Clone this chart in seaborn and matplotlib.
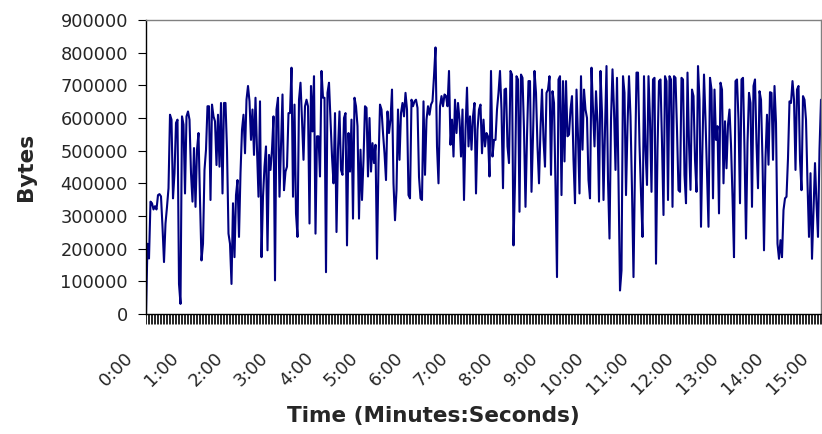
import numpy as np
import pandas as pd
import matplotlib
matplotlib.use("Agg")
import matplotlib.pyplot as plt
import matplotlib.transforms as mtransforms
import seaborn as sns

# Bytes transferred per 2-second interval, in thousands of bytes
bytes_k = [
    0, 215, 170, 344, 339, 320, 330, 320, 364, 367,
    360, 267, 159, 277, 328, 385, 610, 595, 354, 431,
    585, 595, 92, 31, 605, 580, 369, 605, 620, 595,
    431, 344, 508, 328, 503, 554, 349, 164, 215, 441,
    503, 636, 636, 349, 641, 605, 590, 456, 610, 451,
    646, 369, 646, 646, 503, 246, 215, 92, 339, 174,
    364, 410, 236, 431, 564, 610, 492, 656, 698, 651,
    533, 626, 487, 662, 503, 359, 651, 174, 359, 451,
    513, 195, 487, 441, 503, 605, 103, 626, 662, 359,
    513, 672, 379, 436, 451, 615, 615, 754, 359, 641,
    308, 236, 656, 708, 595, 472, 636, 656, 636, 277,
    698, 559, 728, 246, 544, 544, 421, 744, 662, 662,
    128, 677, 708, 595, 482, 400, 615, 251, 503, 620,
    441, 426, 600, 615, 210, 554, 436, 595, 292, 662,
    636, 575, 292, 503, 349, 472, 636, 631, 421, 600,
    436, 523, 462, 518, 169, 460, 641, 626, 554, 492,
    410, 620, 554, 595, 687, 400, 287, 379, 626, 472,
    615, 646, 605, 677, 626, 364, 354, 656, 636, 651,
    656, 631, 420, 354, 349, 651, 426, 595, 636, 610,
    641, 651, 728, 816, 513, 400, 636, 667, 636, 672,
    667, 636, 744, 518, 595, 482, 656, 554, 646, 595,
    482, 626, 349, 564, 693, 513, 605, 503, 605, 646,
    369, 564, 626, 641, 492, 595, 513, 554, 544, 421,
    744, 482, 533, 533, 626, 677, 744, 626, 385, 687,
    690, 513, 462, 744, 733, 210, 405, 728, 718, 313,
    733, 723, 564, 328, 544, 713, 713, 374, 544, 744,
    677, 513, 400, 569, 687, 533, 451, 677, 687, 728,
    426, 682, 646, 390, 113, 718, 728, 364, 713, 467,
    713, 544, 549, 626, 667, 472, 339, 687, 544, 369,
    728, 503, 687, 626, 600, 410, 354, 754, 626, 513,
    682, 585, 344, 744, 615, 349, 564, 759, 410, 231,
    595, 749, 626, 441, 723, 410, 72, 133, 728, 677,
    364, 575, 728, 605, 379, 113, 451, 739, 739, 518,
    369, 236, 728, 503, 395, 728, 595, 374, 718, 723,
    154, 503, 713, 718, 523, 303, 728, 713, 349, 728,
    718, 328, 728, 723, 564, 379, 374, 723, 718, 426,
    339, 739, 523, 380, 687, 667, 472, 374, 759, 656,
    267, 523, 733, 595, 431, 267, 723, 687, 354, 687,
    533, 575, 308, 708, 687, 400, 590, 446, 580, 626,
    518, 359, 174, 713, 718, 595, 339, 718, 723, 503,
    231, 523, 677, 646, 328, 698, 718, 523, 385, 682,
    656, 472, 195, 477, 610, 457, 679, 677, 472, 698,
    585, 215, 169, 226, 174, 318, 354, 359, 477, 651,
    646, 713, 656, 441, 687, 698, 472, 379, 667, 656,
    595, 400, 236, 431, 169, 318, 462, 339, 236, 503, 656,
]
sample_interval_s = 2
minute_labels = ["0:00", "1:00", "2:00", "3:00", "4:00", "5:00", "6:00", "7:00",
                 "8:00", "9:00", "10:00", "11:00", "12:00", "13:00", "14:00", "15:00"]
y_ticks = [0, 100000, 200000, 300000, 400000, 500000, 600000, 700000, 800000, 900000]

seconds = np.arange(len(bytes_k)) * sample_interval_s
df = pd.DataFrame({"seconds": seconds, "bytes": np.array(bytes_k) * 1000})

sns.set_style("white")
plt.rcParams["font.family"] = ["DejaVu Sans"]

fig = plt.figure(figsize=(8.22, 4.34), dpi=100)
ax = fig.add_axes([146 / 822, 1 - 314 / 434, 675 / 822, 294 / 434])

sns.lineplot(data=df, x="seconds", y="bytes", ax=ax, color="#000080", linewidth=1.5)

ax.set_xlim(0, seconds[-1])
ax.set_ylim(0, 900000)

ax.set_yticks(y_ticks)
ax.set_yticklabels([str(v) for v in y_ticks], fontsize=12.8)
ax.tick_params(axis="y", which="major", direction="out", length=6, width=0.8,
               color="black", left=True, pad=7)

major_pos = [i * 60 for i in range(len(minute_labels))]
ax.set_xticks(major_pos)
ax.set_xticklabels(minute_labels, rotation=45, ha="right", va="top", fontsize=12.8)
ax.set_xticks(seconds, minor=True)
ax.tick_params(axis="x", which="both", direction="out", length=7, width=0.6,
               color="black", bottom=True)
ax.tick_params(axis="x", which="major", pad=18)

offset = mtransforms.ScaledTranslation(-9 / 100, 0, fig.dpi_scale_trans)
for lab in ax.get_xticklabels():
    lab.set_transform(lab.get_transform() + offset)

for side in ["left", "bottom"]:
    ax.spines[side].set_color("black")
    ax.spines[side].set_linewidth(1.0)
for side in ["top", "right"]:
    ax.spines[side].set_visible(True)
    ax.spines[side].set_color("#808080")
    ax.spines[side].set_linewidth(1.0)

ax.set_xlabel("Time (Minutes:Seconds)", fontsize=15.5, fontweight="bold")
ax.set_ylabel("Bytes", fontsize=15.5, fontweight="bold")
ax.xaxis.set_label_coords((433 - 146) / 675, (314 - 406) / 294)
ax.yaxis.set_label_coords((36 - 146) / 675, 0.5)

fig.savefig("out.png", dpi=100, facecolor="white")
